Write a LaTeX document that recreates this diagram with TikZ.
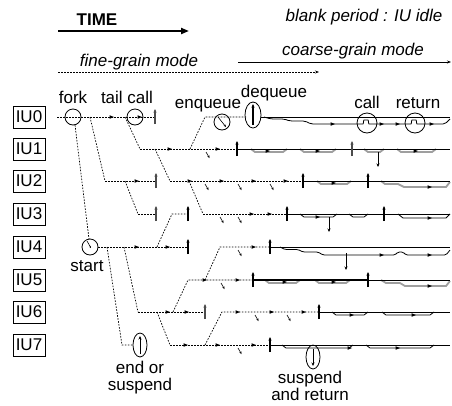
\documentclass[tikz,border=0pt]{standalone}
\usepackage{fontspec}
\setmainfont{Liberation Sans}
\usetikzlibrary{arrows.meta}
\newcommand\arh[2]{\fill (#1+2,#2) -- (#1-2.5,#2-1.8) -- (#1-2.5,#2+1.8) -- cycle;}
\newcommand\tickup[3][black]{\draw[#1,line width=1.1pt,-{Stealth[length=3.5pt,width=3pt]}] (#2,#3+7) -- (#2,#3-8);}
\newcommand\slmark[2]{\draw[line width=0.6pt,-{Stealth[length=2.5pt,width=2.2pt]}] (#1-2,#2+3) -- (#1+1.5,#2+9);}
\newcommand\downarr[3]{\draw[line width=0.8pt,-{Stealth[length=3.5pt,width=3pt]}] (#1,#2) -- (#1,#3);}
\newcommand\bump[5][]{\draw[#1] (#2,#4) -- (#2+4,#4+#5) -- (#3-4,#4+#5) -- (#3,#4);}
\begin{document}
\begin{tikzpicture}[x=1pt,y=-1pt,
  fine/.style={line width=0.7pt,dash pattern=on 1.6pt off 1.4pt},
  solidl/.style={line width=0.8pt},
  gb/.style={gray!75,line width=1.8pt},
  bl/.style={line width=0.8pt},
  lbl/.style={font=\fontsize{17}{19}\selectfont,inner sep=0pt,anchor=base},
  itl/.style={font=\fontsize{17}{19}\selectfont\itshape,inner sep=0pt,anchor=base},
  iubox/.style={draw,line width=0.8pt,minimum width=32pt,minimum height=22pt,inner sep=0pt,font=\fontsize{17}{19}\selectfont},
  ring/.style={draw,circle,line width=0.8pt,minimum size=16pt,inner sep=0pt},
  bigring/.style={draw,circle,line width=0.8pt,minimum size=20pt,inner sep=0pt},
  tipS/.style={-{Stealth[length=4pt,width=3pt]}},
]
\useasboundingbox (0,0) rectangle (452,405);

% ---------- header ----------
\node[font=\bfseries\fontsize{17}{19}\selectfont,inner sep=0pt,anchor=base] (time) at (97,25) {TIME};
\coordinate (t1) at (58,31); \coordinate (t2) at (189,31);
\draw[line width=2.2pt,-{Triangle[length=8pt,width=6pt]}] (t1) -- (t2);
\node[itl] (blank) at (364,21) {blank period : IU idle};
\node[itl] (coarse) at (353,55) {coarse-grain mode};
\coordinate (c1) at (238,62); \coordinate (c2) at (451,62);
\draw[line width=0.8pt,tipS] (c1) -- (c2);
\node[itl] (fineg) at (139,66) {fine-grain mode};
\coordinate (f1) at (58,72); \coordinate (f2) at (319,72);
\draw[fine,tipS] (f1) -- (f2);

% ---------- IU boxes ----------
\foreach \i/\yy in {0/117,1/149,2/181,3/214,4/247,5/280,6/312,7/345}
  \node[iubox] (iu\i) at (29,\yy) {IU\i};

% ---------- event labels ----------
\node[lbl] (lfork) at (73,103) {fork};
\node[lbl] (ltail) at (127,103) {tail call};
\node[lbl] (lenq) at (208,108) {enqueue};
\node[lbl] (ldeq) at (274,97) {dequeue};
\node[lbl] (lcall) at (367,108) {call};
\node[lbl] (lret) at (418,108) {return};
\node[lbl] (lstart) at (87,271) {start};
\node[lbl] (lend1) at (140,373) {end or};
\node[lbl] (lend2) at (140,390) {suspend};
\node[lbl] (lsus1) at (310,383) {suspend};
\node[lbl] (lsus2) at (310,400) {and return};

% ---------- fine-grain part ----------
% IU0
\draw[fine] (57,117) -- (155,117);
\arh{112}{117} \arh{140}{117}
\node[ring] (fork) at (73,117) {};
\node[ring] (tail) at (135,117) {};
\tickup[gray!60!black]{155}{117}
\draw[fine] (75,125) -- (89,239);
\draw[fine] (90,117) -- (105,181);
\draw[fine] (125,117) -- (140,149);
\draw[fine] (190,149) -- (205,117) -- (246,117);
\node[ring] (enq) at (222,122) {};
\draw[line width=0.6pt,-{Stealth[length=2.5pt,width=2.2pt]}] (218,117) -- (226,127);
\draw[line width=0.8pt] (253,115) ellipse [x radius=8,y radius=13];
\draw[line width=1.2pt,-{Stealth[length=3.5pt,width=3pt]}] (253,125) -- (253,104);
% IU1
\draw[fine] (140,149) -- (237,149);
\arh{170}{149} \arh{218}{149}
\slmark{208}{149}
\tickup{237}{149}
\draw[fine] (155,149) -- (170,181);
% IU2
\draw[fine] (105,181) -- (156,181);
\arh{137}{181}
\tickup[gray!60!black]{156}{181}
\draw[fine] (125,181) -- (138,214);
\draw[fine] (170,181) -- (303,181);
\arh{190}{181} \arh{222}{181} \arh{254}{181} \arh{286}{181}
\slmark{207}{181} \slmark{240}{181} \slmark{272}{181}
\tickup{303}{181}
\draw[fine] (189,181) -- (203,214);
% IU3
\draw[fine] (138,214) -- (156,214);
\tickup[gray!60!black]{156}{214}
\draw[fine] (157,247) -- (172,214) -- (188,214);
\tickup{188}{214}
\draw[fine] (203,214) -- (287,214);
\arh{252}{214} \arh{270}{214}
\slmark{222}{214} \slmark{240}{214}
\tickup{287}{214}
% IU4
\node[ring] (start) at (90,247) {};
\draw[line width=0.6pt,-{Stealth[length=2pt,width=2pt]}] (87,241) -- (91,248);
\draw[fine] (98,247) -- (188,247);
\arh{137}{247} \arh{168}{247}
\tickup{188}{247}
\draw[fine] (107,247) -- (122,345) -- (133,345);
\draw[fine] (124,247) -- (138,312);
\draw[fine] (205,280) -- (220,247) -- (270,247);
\arh{254}{247}
\slmark{240}{247}
\tickup{270}{247}
% IU5
\draw[fine] (173,312) -- (188,280) -- (253,280);
\arh{205}{280} \arh{238}{280}
\slmark{223}{280}
% IU6
\draw[fine] (138,312) -- (205,312);
\arh{168}{312} \arh{187}{312}
\tickup[gray!60!black]{205}{312}
\draw[fine] (157,312) -- (170,345);
\draw[fine] (205,345) -- (222,312) -- (319,312);
\arh{238}{312} \arh{272}{312} \arh{304}{312}
\slmark{257}{312} \slmark{289}{312}
\tickup{319}{312}
% IU7
\draw[line width=0.8pt] (140,345) ellipse [x radius=7,y radius=12];
\draw[line width=1pt,-{Stealth[length=3.5pt,width=3pt]}] (140,354) -- (140,336);
\draw[fine] (170,345) -- (270,345);
\arh{186}{345} \arh{218}{345} \arh{254}{345}
\slmark{240}{345}
\tickup{270}{345}

% ---------- coarse-grain part ----------
% IU0
\draw[solidl] (261,117) -- (450,117);
\draw[bl,rounded corners=2pt] (264,117) -- (271,119) -- (284,119) -- (290,121) -- (305,121) -- (311,124) -- (361,124)
  to[out=0,in=180] (366,120) to[out=0,in=180] (371,124) -- (409,124)
  to[out=0,in=180] (414,120) to[out=0,in=180] (419,124) -- (445,124) -- (450,119);
\arh{333}{124} \arh{382}{124} \arh{398}{124} \arh{432}{124}
\node[bigring] (call) at (367,123) {};
\node[bigring] (ret) at (415,123) {};
% IU1
\bump[gb]{251}{287}{149}{3} \bump[gb]{300}{336}{149}{3}
\bump[gb]{364}{384}{149}{3} \bump[gb]{397}{436}{149}{3}
\draw[solidl] (237,149) -- (450,149);
\arh{268}{151} \arh{318}{151} \arh{416}{151}
\tickup[gray!60!black]{352}{149}
\downarr{378}{152}{167}
% IU2
\bump[gb]{317}{351}{181}{3}
\draw[gb] (381,181) -- (385,184) -- (398,184) -- (404,187) -- (446,187) -- (450,182);
\draw[solidl] (303,181) -- (450,181);
\arh{334}{183} \arh{430}{187}
\tickup{368}{181}
% IU3
\bump[bl]{300}{337}{214}{3} \bump[bl]{349}{368}{214}{3}
\draw[bl] (398,214) -- (403,218) -- (446,218) -- (450,214);
\draw[solidl] (287,214) -- (450,214);
\arh{318}{217} \arh{430}{218}
\downarr{329}{217}{232}
\tickup{384}{214}
% IU4
\draw[solidl] (270,247) -- (450,247);
\draw[bl,rounded corners=1.5pt] (280,247) -- (285,249.5) -- (298,249.5) -- (303,252) -- (318,252) -- (323,255) -- (395,255) -- (398,252) -- (403,252) -- (406,255) -- (446,255) -- (450,250);
\arh{382}{255} \arh{430}{255}
\downarr{346}{253}{270}
% IU5
\bump[gb]{265}{300}{280}{3} \bump[gb]{315}{350}{280}{3}
\draw[gb] (381,280) -- (386,283) -- (400,283) -- (405,286) -- (446,286) -- (450,281);
\draw[line width=1.5pt] (253,280) -- (368,280);
\draw[solidl] (368,280) -- (450,280);
\arh{285}{282} \arh{334}{282} \arh{430}{286}
\tickup{253}{280}
\tickup{368}{280}
% IU6
\bump[bl]{332}{368}{312}{3} \bump[bl]{382}{434}{312}{3}
\draw[solidl] (319,312) -- (450,312);
\arh{352}{315} \arh{414}{315}
% IU7
\bump[bl]{282}{353}{345}{3} \bump[bl]{366}{434}{345}{3}
\draw[solidl] (270,345) -- (450,345);
\arh{350}{348} \arh{398}{348}
\draw[line width=0.8pt] (313,357) ellipse [x radius=7,y radius=12];
\draw[line width=0.8pt,-{Stealth[length=3.5pt,width=3pt]}] (313,349) -- (313,366);
\end{tikzpicture}
\end{document}
